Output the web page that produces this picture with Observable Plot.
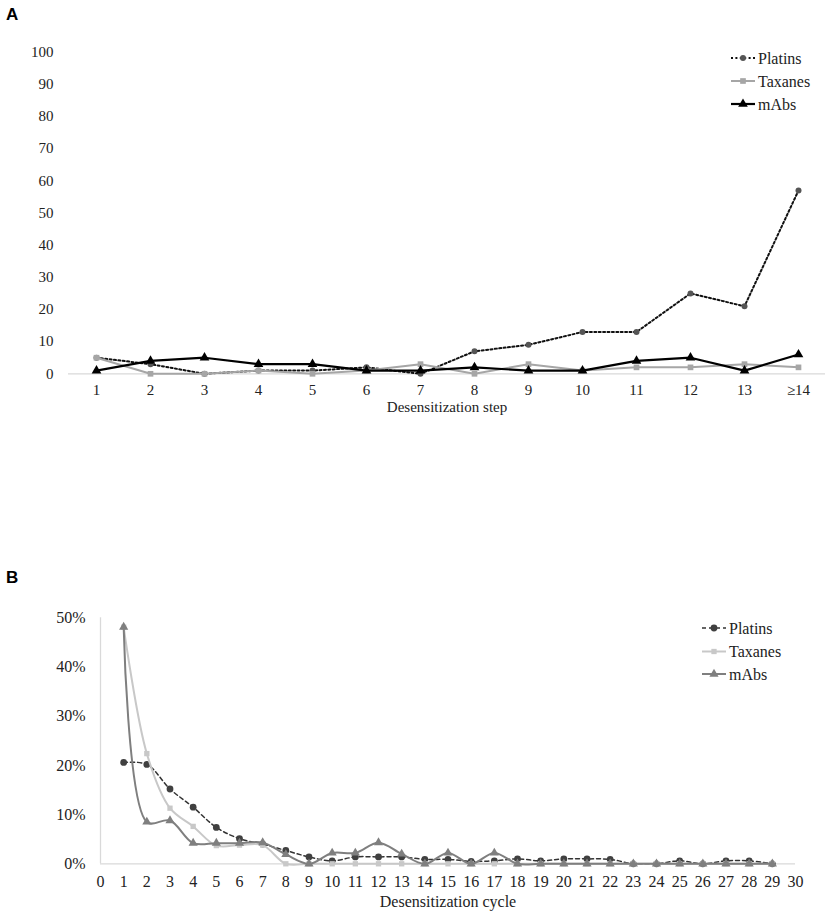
<!DOCTYPE html>
<html>
<head>
<meta charset="utf-8">
<script src="https://cdn.jsdelivr.net/npm/d3@7"></script>
<script src="https://cdn.jsdelivr.net/npm/@observablehq/plot@0.6"></script>
<style>
  body { margin: 0; background: #fff; width: 829px; height: 917px; position: relative; overflow: hidden; }
  .panel { position: absolute; left: 0; }
  .tag { position: absolute; font-family: "Liberation Sans", Arial, sans-serif; font-weight: bold; font-size: 17px; color: #000; line-height: 1; }
  #legend { position: absolute; left: 0; top: 0; pointer-events: none; }
</style>
</head>
<body>
<div id="panelA" class="panel" style="top:0px"></div>
<div id="panelB" class="panel" style="top:560px"></div>
<svg id="legend" width="829" height="917"></svg>
<div class="tag" style="left:6px;top:6px">A</div>
<div class="tag" style="left:6px;top:569px">B</div>
<script>
// ---------- Panel A data: desensitization step ----------
const stepLabels = ["1","2","3","4","5","6","7","8","9","10","11","12","13","≥14"];
const platinsStep = [5, 3, 0, 1, 1, 2, 0, 7, 9, 13, 13, 25, 21, 57];
const taxanesStep = [5, 0, 0, 1, 0, 1, 3, 0, 3, 1, 2, 2, 3, 2];
const mabsStep    = [1, 4, 5, 3, 3, 1, 1, 2, 1, 1, 4, 5, 1, 6];
const yTicksA = [0, 10, 20, 30, 40, 50, 60, 70, 80, 90, 100];

// ---------- Panel B data: desensitization cycle (%) ----------
const cycles = [1,2,3,4,5,6,7,8,9,10,11,12,13,14,15,16,17,18,19,20,21,22,23,24,25,26,27,28,29];
const platinsCycle = [20.6, 20.2, 15.2, 11.5, 7.4, 5.1, 4.0, 2.7, 1.4, 0.6, 1.4, 1.4, 1.4, 0.9, 0.9, 0.5, 0.6, 1.0, 0.6, 1.0, 1.0, 0.9, 0, 0, 0.6, 0, 0.6, 0.6, 0];
const taxanesCycle = [48.1, 22.4, 11.3, 7.6, 3.7, 3.8, 3.8, 0, 0, 0, 0, 0, 0, 0, 0, 0, 0, 0, 0, 0, 0, 0, 0, 0, 0, 0, 0, 0, 0];
const mabsCycle    = [48.1, 8.5, 8.8, 4.2, 4.2, 4.2, 4.3, 1.9, 0, 2.2, 2.2, 4.3, 2.0, 0, 2.2, 0, 2.2, 0, 0, 0, 0, 0, 0, 0, 0, 0, 0, 0, 0];
const yTicksB = [0, 10, 20, 30, 40, 50];
const xTicksB = d3.range(0, 31);

const seriesNames = ["Platins", "Taxanes", "mAbs"];

const rowsA = (vals) => stepLabels.map((s, i) => ({step: s, value: vals[i]}));
const rowsB = (vals) => cycles.map((c, i) => ({cycle: c, value: vals[i]}));

const styleA = {
  Platins: {stroke: "#111", strokeWidth: 2, dash: "2,2.4", fill: "#555", symbol: "circle", r: 3},
  Taxanes: {stroke: "#a6a6a6", strokeWidth: 2, dash: null, fill: "#a6a6a6", symbol: "square", r: 3.2},
  mAbs:    {stroke: "#000", strokeWidth: 2.2, dash: null, fill: "#000", symbol: "triangle", r: 3.6}
};
const styleB = {
  Platins: {stroke: "#333", strokeWidth: 1.5, dash: "4,3", fill: "#404040", symbol: "circle", r: 3.4},
  Taxanes: {stroke: "#c8c8c8", strokeWidth: 2, dash: null, fill: "#c8c8c8", symbol: "square", r: 3},
  mAbs:    {stroke: "#7f7f7f", strokeWidth: 2, dash: null, fill: "#7f7f7f", symbol: "triangle", r: 3.4}
};

const font = "'Liberation Serif', 'Times New Roman', serif";

function seriesMarks(rows, xKey, st, curve) {
  return [
    Plot.line(rows, {x: xKey, y: "value", stroke: st.stroke, strokeWidth: st.strokeWidth,
      strokeDasharray: st.dash || undefined, curve: curve, strokeLinejoin: "round"}),
    Plot.dot(rows, {x: xKey, y: "value", symbol: st.symbol, r: st.r, fill: st.fill, stroke: "none"})
  ];
}

// ---------- Panel A ----------
const dataA = {Platins: rowsA(platinsStep), Taxanes: rowsA(taxanesStep), mAbs: rowsA(mabsStep)};
const chartA = Plot.plot({
  width: 829,
  height: 420,
  marginLeft: 68,
  marginRight: 4,
  marginTop: 51.7,
  marginBottom: 46.7,
  x: {type: "point", domain: stepLabels, padding: 0.5, label: null},
  y: {domain: [0, 100], label: null},
  style: {fontFamily: font, fontSize: "15px", color: "#222", background: "white", overflow: "visible"},
  marks: [
    Plot.ruleY([0], {stroke: "#d9d9d9", strokeWidth: 1.3}),
    Plot.axisY({ticks: yTicksA, tickSize: 0, tickPadding: 15, fontSize: 15, label: null}),
    Plot.axisX({tickSize: 0, tickPadding: 11, fontSize: 15, label: null}),
    Plot.text(["Desensitization step"], {text: d => d, frameAnchor: "bottom", dy: 38, fontSize: 15}),
    ...seriesNames.flatMap(n => seriesMarks(dataA[n], "step", styleA[n], "linear"))
  ]
});
document.getElementById("panelA").append(chartA);

// ---------- Panel B ----------
const dataB = {Platins: rowsB(platinsCycle), Taxanes: rowsB(taxanesCycle), mAbs: rowsB(mabsCycle)};
const chartB = Plot.plot({
  width: 829,
  height: 357,
  marginLeft: 100,
  marginRight: 34,
  marginTop: 57.3,
  marginBottom: 53.7,
  x: {domain: [0, 30], label: null},
  y: {domain: [0, 50], label: null},
  style: {fontFamily: font, fontSize: "16px", color: "#222", background: "white", overflow: "visible"},
  marks: [
    Plot.ruleY([0], {x1: 0, x2: 30, stroke: "#d9d9d9", strokeWidth: 1.3}),
    Plot.ruleX([0], {y1: 0, y2: 50, stroke: "#d9d9d9", strokeWidth: 1.3}),
    Plot.axisY({ticks: yTicksB, tickFormat: d => d + "%", tickSize: 0, tickPadding: 15, fontSize: 16, label: null}),
    Plot.axisX({ticks: xTicksB, tickFormat: d => String(d), tickSize: 0, tickPadding: 12, fontSize: 16, label: null}),
    Plot.text(["Desensitization cycle"], {text: d => d, frameAnchor: "bottom", dy: 43, fontSize: 16}),
    ...seriesNames.flatMap(n => seriesMarks(dataB[n], "cycle", styleB[n], "catmull-rom"))
  ]
});
document.getElementById("panelB").append(chartB);

// ---------- Legends ----------
const legendSvg = d3.select("#legend");
function drawLegend(styles, ys, x0, x1, tx) {
  seriesNames.forEach((name, i) => {
    const st = styles[name];
    const y = ys[i];
    const g = legendSvg.append("g");
    g.append("line").attr("x1", x0).attr("x2", x1).attr("y1", y).attr("y2", y)
      .attr("stroke", st.stroke).attr("stroke-width", st.strokeWidth)
      .attr("stroke-dasharray", st.dash);
    const sym = d3.symbol().type(st.symbol === "circle" ? d3.symbolCircle : st.symbol === "square" ? d3.symbolSquare : d3.symbolTriangle)
      .size(Math.PI * st.r * st.r);
    g.append("path").attr("d", sym()).attr("transform", `translate(${(x0 + x1) / 2},${y})`).attr("fill", st.fill);
    g.append("text").attr("x", tx).attr("y", y).attr("dy", "0.35em")
      .attr("font-family", font).attr("font-size", 16).attr("fill", "#222").text(name);
  });
}
drawLegend(styleA, [58, 81, 104], 731, 755, 758);
drawLegend(styleB, [628, 651.5, 674], 702, 726, 729);
</script>
</body>
</html>
